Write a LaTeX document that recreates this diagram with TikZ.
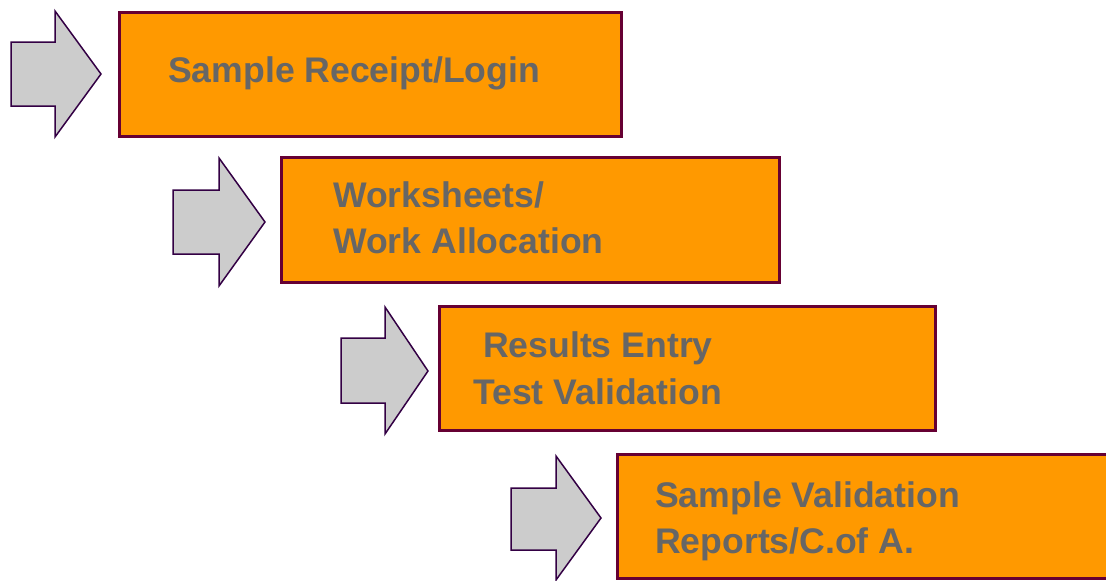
\documentclass[tikz,border=0pt]{standalone}
\usepackage{fontspec}
\setmainfont{Liberation Sans}
\begin{document}
\begin{tikzpicture}[x=1pt,y=-1pt,
  stepbox/.style={draw=boxedge,fill=boxfill,line width=3pt,rectangle,
    inner sep=0pt,outer sep=0pt},
  arrowshape/.style={draw=arrowedge,fill=arrowfill,line width=1.5pt,line join=miter},
  label/.style={anchor=base west,inner sep=0pt,text=labelgray,
    font=\fontsize{35.6}{46}\selectfont\bfseries}]
\definecolor{boxfill}{HTML}{FF9900}
\definecolor{boxedge}{HTML}{660033}
\definecolor{arrowfill}{HTML}{CCCCCC}
\definecolor{arrowedge}{HTML}{330044}
\definecolor{labelgray}{HTML}{666666}
\useasboundingbox (0,0) rectangle (1106,581);

% block arrows: shaft left x, shaft top, shaft bottom, head x, head top, head bottom, tip x, tip y
\newcommand{\blockarrow}[8]{%
  \draw[arrowshape] (#1,#2) -- (#4,#2) -- (#4,#5) -- (#7,#8) -- (#4,#6)
    -- (#4,#3) -- (#1,#3) -- cycle;}
\blockarrow{11}{42}{106}{55}{11}{137}{101}{74}
\blockarrow{173}{190}{254}{219}{158}{286}{265}{222}
\blockarrow{341}{338}{403}{385}{307}{434}{428}{371}
\blockarrow{511}{488}{550}{556}{456}{580}{601}{518}

% process boxes
\node[stepbox,minimum width=502pt,minimum height=124pt] (b1) at (370,74) {};
\node[stepbox,minimum width=498pt,minimum height=125pt] (b2) at (530,219.5) {};
\node[stepbox,minimum width=496pt,minimum height=124pt] (b3) at (687,368) {};
\node[stepbox,minimum width=498pt,minimum height=124pt] (b4) at (866,516) {};

% labels
\node[label] (t1) at (168,82) {Sample Receipt/Login};
\node[label] (t2a) at (333,207) {Worksheets/};
\node[label] (t2b) at (333,253) {Work Allocation};
\node[label] (t3a) at (483,357) {Results Entry};
\node[label] (t3b) at (473,404) {Test Validation};
\node[label] (t4a) at (655,507) {Sample Validation};
\node[label] (t4b) at (655,553) {Reports/C.of A.};
\end{tikzpicture}
\end{document}
